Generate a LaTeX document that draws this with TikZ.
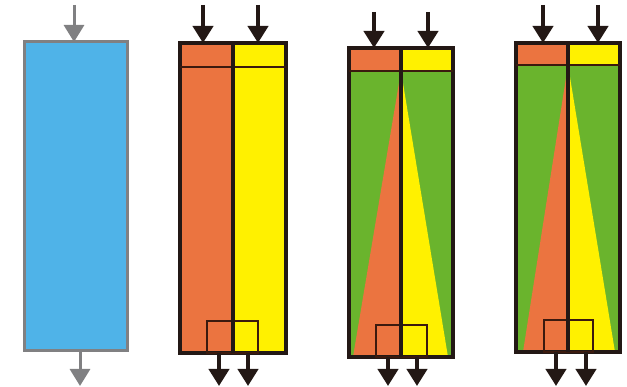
\documentclass[tikz,border=0pt]{standalone}
\usetikzlibrary{arrows.meta,backgrounds}

\definecolor{skyblue}{HTML}{4FB3E8}
\definecolor{ash}{HTML}{808082}
\definecolor{ember}{HTML}{EB7440}
\definecolor{sun}{HTML}{FFF100}
\definecolor{leaf}{HTML}{6AB42D}
\definecolor{edge}{HTML}{231815}
\definecolor{rust}{HTML}{3B1A0E}

\begin{document}
\begin{tikzpicture}[
        x=1pt, y=-1pt,
        tank/.style={
            rectangle,
            draw=edge,
            line width=3.5pt,
            inner sep=0pt,
            outer sep=0pt
        },
        cell/.style={
            rectangle,
            draw=rust,
            line width=2pt,
            inner sep=0pt,
            outer sep=0pt,
            minimum height=32pt
        },
        rim/.style={draw=edge, line width=3.5pt},
        band/.style={draw=rust, line width=2pt},
        feed/.style={
            -{Triangle[width=20pt,length=17pt]},
            line width=4pt,
            draw=edge
        },
        grayfeed/.style={
            -{Triangle[width=20pt,length=17pt]},
            line width=3pt,
            draw=ash
        }
    ]
        \useasboundingbox (0,0) rectangle (627,387);

        \coordinate (top) at (0,5);
        \coordinate (bot) at (0,386);

        % single column
        \node[tank, draw=ash, line width=3pt, fill=skyblue,
              minimum width=103pt, minimum height=309pt] (tankA) at (75.5,196.5) {};
        \coordinate (inA) at (74,5);
        \coordinate (outA) at (80,386);
        \draw[grayfeed] (inA) -- (inA |- tankA.north);
        \draw[grayfeed] (outA |- tankA.south) -- (outA);

        % split column
        \node[tank, minimum width=106pt, minimum height=310pt] (tankB) at (233,198) {};
        \begin{scope}[on background layer]
            \fill[ember] (tankB.north west) rectangle (tankB.south);
            \fill[sun] (tankB.north) rectangle (tankB.south east);
        \end{scope}
        \draw[band] (180,67) -- (286,67);
        \node[cell, minimum width=26pt] (cellBl) at (220,337) {};
        \node[cell, minimum width=25pt] (cellBr) at (245.5,337) {};
        \draw[rim] (tankB.north) -- (tankB.south);
        \coordinate (inBl) at (203,5);
        \coordinate (inBr) at (258,5);
        \coordinate (outBl) at (219,386);
        \coordinate (outBr) at (248,386);
        \draw[feed] (inBl) -- (inBl |- tankB.north);
        \draw[feed] (inBr) -- (inBr |- tankB.north);
        \draw[feed] (outBl |- tankB.south) -- (outBl);
        \draw[feed] (outBr |- tankB.south) -- (outBr);

        % wedge column
        \node[tank, minimum width=104pt, minimum height=309pt] (tankC) at (401,202.5) {};
        \coordinate (apexC) at (401,71);
        \begin{scope}[on background layer]
            \fill[leaf] (tankC.north west) rectangle (tankC.south east);
            \fill[ember] (tankC.north west) rectangle (apexC);
            \fill[sun] (tankC.north) rectangle (tankC.east |- apexC);
            \fill[ember] (apexC) -- (353,357) -- (tankC.south) -- cycle;
            \fill[sun] (apexC) -- (448,357) -- (tankC.south) -- cycle;
        \end{scope}
        \draw[band] (tankC.west |- apexC) -- (tankC.east |- apexC);
        \node[cell, minimum width=25pt] (cellCl) at (388.5,341) {};
        \node[cell, minimum width=26pt] (cellCr) at (414,341) {};
        \draw[rim] (tankC.north) -- (tankC.south);
        \coordinate (inCl) at (374,12);
        \coordinate (inCr) at (428,12);
        \coordinate (outCl) at (388,386);
        \coordinate (outCr) at (417,386);
        \draw[feed] (inCl) -- (inCl |- tankC.north);
        \draw[feed] (inCr) -- (inCr |- tankC.north);
        \draw[feed] (outCl |- tankC.south) -- (outCl);
        \draw[feed] (outCr |- tankC.south) -- (outCr);

        % wedge column, wider base
        \node[tank, minimum width=104pt, minimum height=309pt] (tankD) at (568,197.5) {};
        \coordinate (apexD) at (568,65);
        \begin{scope}[on background layer]
            \fill[leaf] (tankD.north west) rectangle (tankD.south east);
            \fill[ember] (tankD.north west) rectangle (apexD);
            \fill[sun] (tankD.north) rectangle (tankD.east |- apexD);
            \fill[ember] (apexD) -- (523,352) -- (tankD.south) -- cycle;
            \fill[sun] (apexD) -- (615,352) -- (tankD.south) -- cycle;
        \end{scope}
        \draw[band] (tankD.west |- apexD) -- (tankD.east |- apexD);
        \node[cell, minimum width=24pt] (cellDl) at (556,336) {};
        \node[cell, minimum width=25pt] (cellDr) at (580.5,336) {};
        \draw[rim] (tankD.north) -- (tankD.south);
        \coordinate (inDl) at (543,5);
        \coordinate (inDr) at (598,5);
        \coordinate (outDl) at (556,386);
        \coordinate (outDr) at (586,386);
        \draw[feed] (inDl) -- (inDl |- tankD.north);
        \draw[feed] (inDr) -- (inDr |- tankD.north);
        \draw[feed] (outDl |- tankD.south) -- (outDl);
        \draw[feed] (outDr |- tankD.south) -- (outDr);

    \end{tikzpicture}
\end{document}
